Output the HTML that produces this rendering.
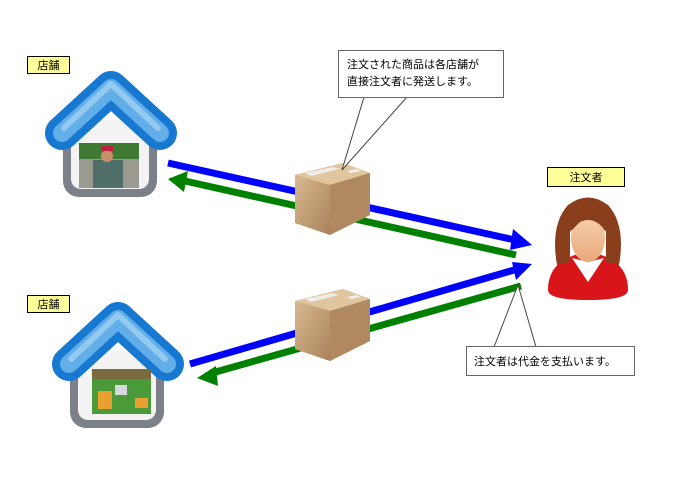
<!DOCTYPE html>
<html><head><meta charset="utf-8"><style>
html,body{margin:0;padding:0;background:#fff;}
svg{display:block;font-family:"Liberation Sans","Noto Sans CJK JP",sans-serif;}
</style></head><body>
<svg width="700" height="500" viewBox="0 0 700 500" xmlns="http://www.w3.org/2000/svg">
<defs>
<linearGradient id="box" x1="0" y1="0" x2="1" y2="1"><stop offset="0" stop-color="#d9b990"/><stop offset="1" stop-color="#a9825a"/></linearGradient>
<linearGradient id="face" x1="0" y1="0" x2="0" y2="1"><stop offset="0" stop-color="#f6d2b0"/><stop offset="1" stop-color="#e8a878"/></linearGradient>
<g id="house">
  <rect x="63" y="120" width="94" height="77" rx="16" fill="#7c8088"/>
  <rect x="71" y="120" width="78" height="69" rx="10" fill="#f3f3f3"/>
  <polyline points="62,133 111,88 160,133" fill="none" stroke="#1778d2" stroke-width="34" stroke-linecap="round" stroke-linejoin="round"/>
  <polyline points="62,133 111,88 160,133" fill="none" stroke="#62aee8" stroke-width="18" stroke-linecap="round" stroke-linejoin="round"/>
  <polyline points="64,128 111,84 158,128" fill="none" stroke="#a9d4f4" stroke-width="6" stroke-linecap="round" stroke-linejoin="round" opacity="0.7"/>
</g>
<g id="cube">
  <polygon points="0,12 48,0 75,10 75,52 35,72 0,60" fill="#c9a77c"/>
  <polygon points="0,12 48,0 75,10 35,22" fill="#e0c59f"/>
  <polygon points="35,22 75,10 75,52 35,72" fill="#b08960"/>
  <polygon points="0,12 35,22 35,72 0,60" fill="url(#box)"/>
  <polygon points="10,10 38,4 44,6 16,13" fill="#eee"/>
  <polygon points="52,8 62,6 66,8 56,10" fill="#f0f0f0"/>
</g>
</defs>

<g stroke-width="7" fill="none">
  <line x1="168" y1="163" x2="515" y2="240" stroke="#0000ff"/>
  <line x1="185" y1="181" x2="516" y2="255" stroke="#008000"/>
  <line x1="190" y1="364" x2="514" y2="270" stroke="#0000ff"/>
  <line x1="212" y1="373" x2="521" y2="286" stroke="#008000"/>
</g>
<polygon points="532,245 513,229 510,250" fill="#0000ff"/>
<polygon points="532,264 512,262 516,280" fill="#0000ff"/>
<polygon points="168,179 188,171 184,192" fill="#008000"/>
<polygon points="197,378 216,366 218,386" fill="#008000"/>

<use href="#house"/>
<rect x="79" y="143" width="60" height="45" fill="#5a7a5a"/>
<rect x="79" y="143" width="60" height="16" fill="#3f7a35"/>
<rect x="79" y="159" width="60" height="29" fill="#9a9a90"/>
<rect x="93" y="160" width="30" height="28" fill="#4f6e6a"/>
<circle cx="107" cy="156" r="6" fill="#c8906a"/>
<rect x="101" y="146" width="12" height="5" fill="#c02040"/>

<use href="#house" transform="translate(7,231)"/>
<rect x="92" y="369" width="59" height="45" fill="#4a9a3a"/>
<rect x="92" y="369" width="59" height="10" fill="#7a6a40"/>
<rect x="98" y="391" width="14" height="18" fill="#e8a030"/>
<rect x="135" y="398" width="13" height="10" fill="#e8a030"/>
<rect x="115" y="385" width="12" height="10" fill="#d8d8e0"/>

<use href="#cube" transform="translate(295,163)"/>
<use href="#cube" transform="translate(295,289)"/>

<path d="M548,290 Q548,258 588,252 Q628,258 628,290 Q628,300 588,300 Q548,300 548,290 Z" fill="#d8161a"/>
<path d="M572,258 L588,282 L604,258 L588,262 Z" fill="#fff"/>
<path d="M557,265 Q550,225 568,205 Q588,190 608,205 Q626,225 619,265 L606,262 L606,230 L570,230 L570,262 Z" fill="#8a3e1c"/>
<ellipse cx="588" cy="238" rx="17" ry="24" fill="url(#face)"/>
<path d="M570,232 Q575,205 590,208 Q604,210 606,232 Q595,215 580,222 Z" fill="#8a3e1c"/>

<rect x="27.5" y="56.5" width="42" height="17" fill="#ffff99" stroke="#000"/>
<text x="48.5" y="69" font-size="11" text-anchor="middle">店舗</text>
<rect x="27.5" y="295.5" width="42" height="17" fill="#ffff99" stroke="#000"/>
<text x="48.5" y="308" font-size="11" text-anchor="middle">店舗</text>
<rect x="547.5" y="167.5" width="77" height="19" fill="#ffff99" stroke="#000"/>
<text x="586" y="181" font-size="11" text-anchor="middle">注文者</text>

<polyline points="364,97 342,170 407,97" fill="#fff" stroke="#444" stroke-width="1"/>
<rect x="338.5" y="50.5" width="165" height="47" fill="#fff" stroke="#666"/>
<text x="347" y="68" font-size="11">注文された商品は各店舗が</text>
<text x="347" y="85" font-size="11">直接注文者に発送します。</text>

<polyline points="494,347 518,285 536,347" fill="#fff" stroke="#444" stroke-width="1"/>
<rect x="466.5" y="346.5" width="168" height="29" fill="#fff" stroke="#666"/>
<text x="474" y="365" font-size="11">注文者は代金を支払います。</text>
</svg>
</body></html>
